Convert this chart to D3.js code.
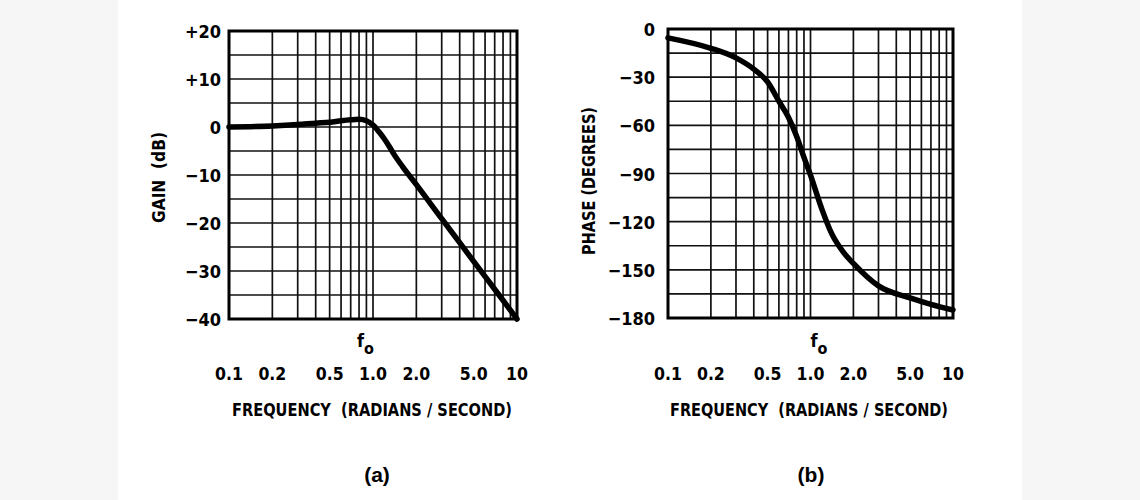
<!DOCTYPE html>
<html>
<head>
<meta charset="utf-8">
<script src="https://cdn.jsdelivr.net/npm/d3@7"></script>
<style>
  html, body { margin: 0; padding: 0; background: #f6f6f6; }
  svg { display: block; }
  text { font-family: "DejaVu Sans Condensed", "DejaVu Sans", sans-serif; font-stretch: condensed; font-weight: bold; fill: #000; }
  text.letter { font-family: "Liberation Sans", Arial, sans-serif; font-stretch: normal; }
</style>
</head>
<body>
<svg id="chart" width="1140" height="500"></svg>
<script>
// ---- data ----
const gainFreq = [0.1, 0.2, 0.3, 0.4, 0.5, 0.6, 0.7, 0.8, 0.9, 1.0, 1.1, 1.2, 1.3, 1.4, 1.6, 2.0, 3.0, 4.0, 5.0, 7.0, 10];
const gainDb   = [0, 0.2, 0.5, 0.8, 1.0, 1.3, 1.5, 1.6, 1.3, 0.4, -1.0, -2.5, -4.1, -5.7, -8.2, -12.0, -19.1, -24.1, -28.0, -33.8, -40];

const phaseFreq = [0.1, 0.2, 0.3, 0.4, 0.5, 0.6, 0.7, 0.8, 0.9, 1.0, 1.2, 1.4, 1.7, 2.0, 3.0, 5.0, 7.0, 10];
const phaseDeg  = [-5.5, -12, -18, -25, -33, -45, -55, -67, -80, -91, -112, -127, -139, -146, -160, -167.5, -171.5, -175];

const freqTicks = [0.1, 0.2, 0.5, 1.0, 2.0, 5.0, 10];
const freqTickLabels = ["0.1", "0.2", "0.5", "1.0", "2.0", "5.0", "10"];
const gainTicks = [20, 10, 0, -10, -20, -30, -40];
const gainTickLabels = ["+20", "+10", "0", "\u221210", "\u221220", "\u221230", "\u221240"];
const phaseTicks = [0, -30, -60, -90, -120, -150, -180];
const phaseTickLabels = ["0", "\u221230", "\u221260", "\u221290", "\u2212120", "\u2212150", "\u2212180"];
const gridFreqs = [0.2,0.3,0.4,0.5,0.6,0.7,0.8,0.9,1,2,3,4,5,6,7,8,9];

const svg = d3.select("#chart");
svg.append("rect").attr("x", 118).attr("y", 0).attr("width", 904).attr("height", 500).attr("fill", "#fff");

function panel(o) {
  const x = d3.scaleLog().domain([0.1, 10]).range([o.x0, o.x1]);
  const y = d3.scaleLinear().domain(o.yDomain).range([o.y1, o.y0]);
  const g = svg.append("g");

  // horizontal grid
  const hy = d3.range(o.yDomain[0] + o.gridStep, o.yDomain[1], o.gridStep);
  g.selectAll(".hg").data(hy).join("line")
    .attr("x1", o.x0).attr("x2", o.x1)
    .attr("y1", d => y(d)).attr("y2", d => y(d))
    .attr("stroke", "#111").attr("stroke-width", 1.7);
  // vertical grid
  g.selectAll(".vg").data(gridFreqs).join("line")
    .attr("y1", o.y0).attr("y2", o.y1)
    .attr("x1", d => x(d)).attr("x2", d => x(d))
    .attr("stroke", "#111").attr("stroke-width", 1.7);
  // frame
  g.append("rect").attr("x", o.x0).attr("y", o.y0)
    .attr("width", o.x1 - o.x0).attr("height", o.y1 - o.y0)
    .attr("fill", "none").attr("stroke", "#000").attr("stroke-width", 3);

  // curve
  const line = d3.line().x(d => x(d[0])).y(d => y(d[1])).curve(d3.curveMonotoneX);
  g.append("path").datum(o.freq.map((f, i) => [f, o.vals[i]]))
    .attr("d", line).attr("fill", "none").attr("stroke", "#000")
    .attr("stroke-width", 5.5).attr("stroke-linejoin", "round").attr("stroke-linecap", "round");

  // y tick labels
  g.selectAll(".yl").data(o.yTicks).join("text")
    .attr("x", o.yLabelX).attr("y", d => y(d) + 7)
    .attr("text-anchor", "end").attr("font-size", 18)
    .text((d, i) => o.yLabels[i]);

  // x tick labels
  g.selectAll(".xl").data(freqTicks).join("text")
    .attr("x", d => x(d)).attr("y", 380)
    .attr("text-anchor", "middle").attr("font-size", 17.5)
    .text((d, i) => freqTickLabels[i]);

  // f_o marker
  const fo = g.append("text").attr("x", x(1) + o.foDx).attr("y", 347).attr("font-size", 18);
  fo.append("tspan").text("f");
  fo.append("tspan").attr("dy", 7).attr("font-size", 16).text("o");

  // x title
  g.append("text").attr("x", o.titleX).attr("y", 416).attr("text-anchor", "middle")
    .attr("font-size", 17.5).attr("textLength", o.titleW).attr("lengthAdjust", "spacingAndGlyphs")
    .attr("xml:space", "preserve")
    .text("FREQUENCY  (RADIANS / SECOND)");

  // y title
  g.append("text").attr("transform", `translate(${o.yTitleX},${o.yTitleY}) rotate(-90)`)
    .attr("text-anchor", "middle").attr("font-size", 17.5)
    .attr("textLength", o.yTitleW).attr("lengthAdjust", "spacingAndGlyphs")
    .attr("xml:space", "preserve")
    .text(o.yTitle);

  // panel letter
  g.append("text").attr("class", "letter").attr("x", o.letterX).attr("y", 482).attr("text-anchor", "middle")
    .attr("font-size", 21).text(o.letter);
}

panel({
  x0: 229, x1: 517, y0: 31, y1: 319,
  yDomain: [-40, 20], gridStep: 5,
  freq: gainFreq, vals: gainDb,
  yTicks: gainTicks, yLabels: gainTickLabels, yLabelX: 221,
  foDx: -16, titleX: 372, titleW: 280,
  yTitle: "GAIN  (dB)", yTitleX: 165, yTitleY: 177.5, yTitleW: 91,
  letter: "(a)", letterX: 377
});

panel({
  x0: 668, x1: 953, y0: 29, y1: 318,
  yDomain: [-180, 0], gridStep: 15,
  freq: phaseFreq, vals: phaseDeg,
  yTicks: phaseTicks, yLabels: phaseTickLabels, yLabelX: 655,
  foDx: 0, titleX: 809, titleW: 278,
  yTitle: "PHASE (DEGREES)", yTitleX: 595, yTitleY: 181, yTitleW: 148,
  letter: "(b)", letterX: 811
});
</script>
</body>
</html>
